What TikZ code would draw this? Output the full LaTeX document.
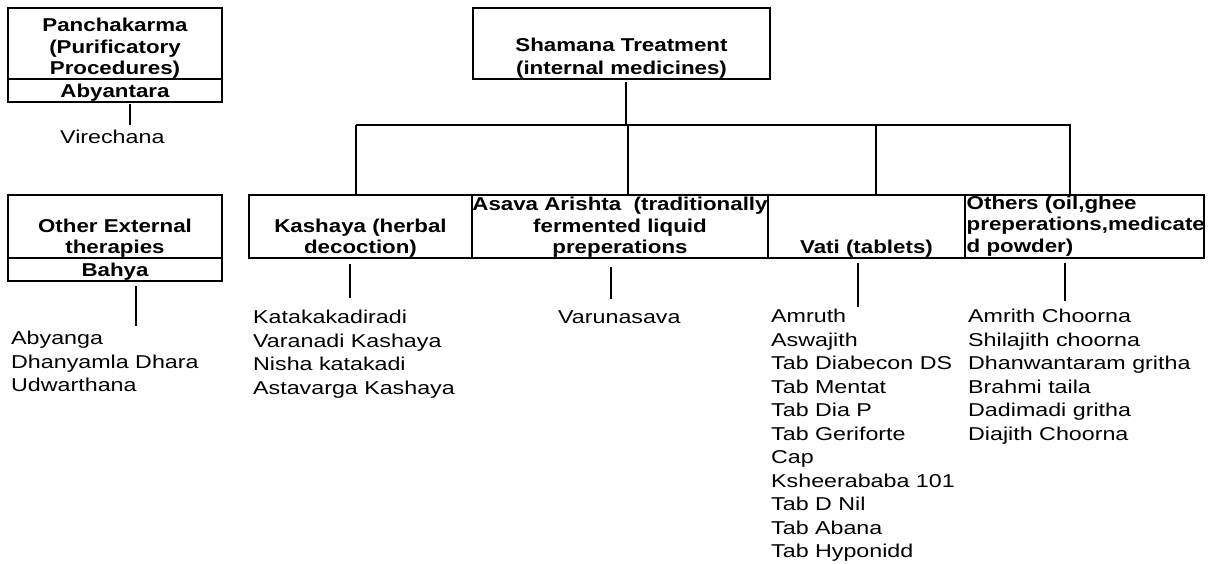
\documentclass[tikz,border=0pt]{standalone}
\usepackage{fontspec}
\setmainfont{Liberation Sans}[FakeStretch=1.25, BoldFeatures={FakeStretch=1.2}]
\begin{document}
\begin{tikzpicture}[
  x=1pt, y=-1pt,
  cell/.style={draw, line width=1.1pt, inner sep=0pt, outer sep=0pt, anchor=north west},
  celltext/.style={font=\fontsize{18.6}{21.5}\selectfont\bfseries, align=center,
                   inner sep=0.2pt, anchor=south},
  items/.style={font=\fontsize{18.6}{23.5}\selectfont, align=left,
                inner sep=0pt, anchor=north west},
  link/.style={line width=1.1pt},
  bar/.style={line width=2.2pt}
]
  \useasboundingbox (0,0) rectangle (1208,563);

  \node[cell, minimum width=214, minimum height=71,
        label={[celltext]south:{Panchakarma\\(Purificatory\\Procedures)}}] (panch) at (8,8) {};
  \node[cell, minimum width=214, minimum height=23,
        label={[celltext]south:{Abyantara}}] (abyantara) at (panch.south west) {};
  \node[items] (virechana) at (60,130) {Virechana};

  \node[cell, minimum width=214, minimum height=63,
        label={[celltext]south:{Other External\\therapies}}] (external) at (8,195) {};
  \node[cell, minimum width=214, minimum height=23,
        label={[celltext]south:{Bahya}}] (bahya) at (external.south west) {};
  \node[items] (bahyalist) at (11,331) {Abyanga\\Dhanyamla Dhara\\Udwarthana};

  \node[cell, minimum width=297, minimum height=71,
        label={[celltext, font=\fontsize{18.6}{23.5}\selectfont\bfseries]south:{Shamana Treatment\\(internal medicines)}}] (shamana) at (473,8) {};

  \node[cell, minimum width=223, minimum height=63,
        label={[celltext]south:{Kashaya (herbal\\decoction)}}] (kashaya) at (249,195) {};
  \node[cell, minimum width=296, minimum height=63,
        label={[celltext]south:{Asava Arishta\ \ (traditionally\\fermented liquid\\preperations}}] (asava) at (kashaya.north east) {};
  \node[cell, minimum width=197, minimum height=63,
        label={[celltext]south:{Vati (tablets)}}] (vati) at (asava.north east) {};
  \node[cell, minimum width=239, minimum height=63,
        label={[celltext, align=left, anchor=south west, inner sep=1.5pt]south west:{Others (oil,ghee\\preperations,medicate\\d powder)}}] (others) at (vati.north east) {};

  \node[items] (kashlist) at (253,310) {Katakakadiradi\\Varanadi Kashaya\\Nisha katakadi\\Astavarga Kashaya};
  \node[items] (asavalist) at (558,310) {Varunasava};
  \node[items] (vatilist) at (771,309) {Amruth\\Aswajith\\Tab Diabecon DS\\Tab Mentat\\Tab Dia P\\Tab Geriforte\\Cap\\Ksheerababa 101\\Tab D Nil\\Tab Abana\\Tab Hyponidd};
  \node[items] (otherslist) at (968,309) {Amrith Choorna\\Shilajith choorna\\Dhanwantaram gritha\\Brahmi taila\\Dadimadi gritha\\Diajith Choorna};

  \coordinate (barL) at (356,125);
  \coordinate (barR) at (1071,125);
  \draw[bar] (barL) -- (barR);
  \draw[link, shorten <=3pt] ([xshift=4.5pt]shamana.south) -- ([xshift=4.5pt]shamana.south |- barL);
  \foreach \cell/\dx in {kashaya/-4.5, asava/8, vati/9.5, others/-14.5}
    \draw[link] ([xshift=\dx pt]\cell.north |- barL) -- ([xshift=\dx pt]\cell.north);

  \draw[link, shorten <=2pt, shorten >=5pt] ([xshift=15pt]abyantara.south) -- ([xshift=15pt]abyantara.south |- virechana.north);
  \draw[link, shorten <=5pt, shorten >=5pt] ([xshift=21pt]bahya.south) -- ([xshift=21pt]bahya.south |- bahyalist.north);
  \draw[link, shorten <=6pt, shorten >=12pt] ([xshift=-10.5pt]kashaya.south) -- ([xshift=-10.5pt]kashaya.south |- kashlist.north);
  \draw[link, shorten <=9pt, shorten >=11pt] ([xshift=-9pt]asava.south) -- ([xshift=-9pt]asava.south |- asavalist.north);
  \draw[link, shorten <=5pt, shorten >=2pt] ([xshift=-8.5pt]vati.south) -- ([xshift=-8.5pt]vati.south |- vatilist.north);
  \draw[link, shorten <=5pt, shorten >=8pt] ([xshift=-19.5pt]others.south) -- ([xshift=-19.5pt]others.south |- otherslist.north);
\end{tikzpicture}
\end{document}
